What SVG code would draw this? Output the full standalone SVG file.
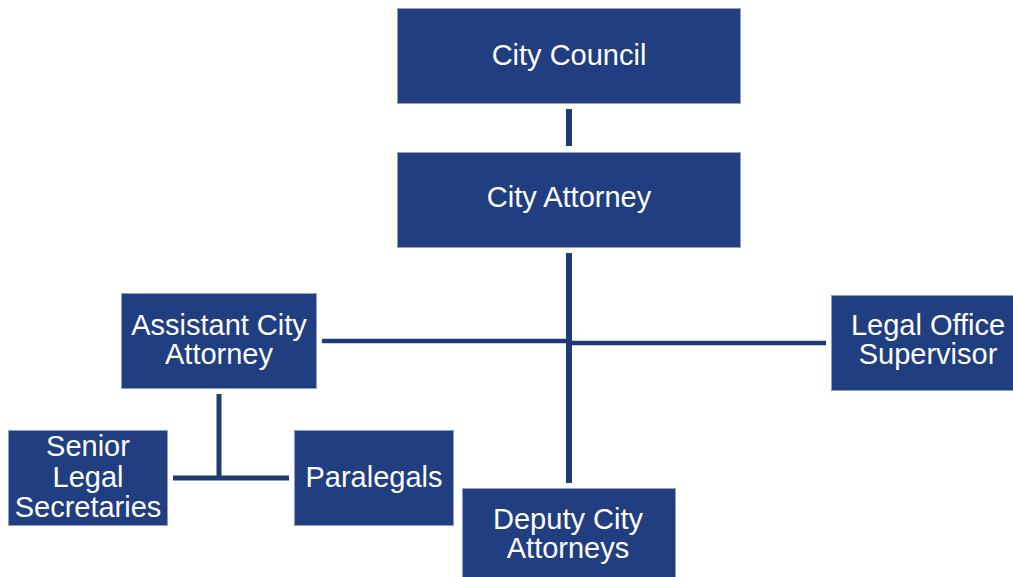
<svg xmlns="http://www.w3.org/2000/svg" width="1013" height="577" viewBox="0 0 1013 577">
<style>
.box{fill:#203E80;stroke:#8FA0C4;stroke-width:1}
.t{font-family:"Liberation Sans",Arial,sans-serif;font-size:29px;fill:#ffffff;text-anchor:middle}
.ln{stroke:#1F3A78;fill:none}
</style>
<rect width="1013" height="577" fill="#ffffff"/>
<g id="connectors">
<line class="ln" x1="569" y1="109" x2="569" y2="146" stroke-width="6"/>
<line class="ln" x1="569" y1="253" x2="569" y2="483" stroke-width="6"/>
<line class="ln" x1="322" y1="341" x2="569" y2="341" stroke-width="4.5"/>
<line class="ln" x1="569" y1="343" x2="826" y2="343" stroke-width="4.5"/>
<line class="ln" x1="219" y1="394" x2="219" y2="480" stroke-width="5"/>
<line class="ln" x1="173" y1="478" x2="289" y2="478" stroke-width="5"/>
</g>
<g id="city-council">
<rect class="box" x="397.5" y="8.5" width="343" height="95"/>
<text class="t" x="569" y="65">City Council</text>
</g>
<g id="city-attorney">
<rect class="box" x="397.5" y="152.5" width="343" height="95"/>
<text class="t" x="569" y="207">City Attorney</text>
</g>
<g id="assistant-city-attorney">
<rect class="box" x="121.5" y="293.5" width="195" height="95"/>
<text class="t" x="219" y="335">Assistant City</text>
<text class="t" x="219" y="364">Attorney</text>
</g>
<g id="legal-office-supervisor">
<rect class="box" x="831.5" y="295.5" width="182" height="95"/>
<text class="t" x="928" y="335">Legal Office</text>
<text class="t" x="928" y="364">Supervisor</text>
</g>
<g id="senior-legal-secretaries">
<rect class="box" x="8.5" y="430.5" width="159" height="95"/>
<text class="t" x="88" y="456">Senior</text>
<text class="t" x="88" y="487">Legal</text>
<text class="t" x="88" y="517">Secretaries</text>
</g>
<g id="paralegals">
<rect class="box" x="294.5" y="430.5" width="159" height="95"/>
<text class="t" x="374" y="487">Paralegals</text>
</g>
<g id="deputy-city-attorneys">
<rect class="box" x="462.5" y="488.5" width="213" height="95"/>
<text class="t" x="568" y="529">Deputy City</text>
<text class="t" x="568" y="558">Attorneys</text>
</g>
</svg>
